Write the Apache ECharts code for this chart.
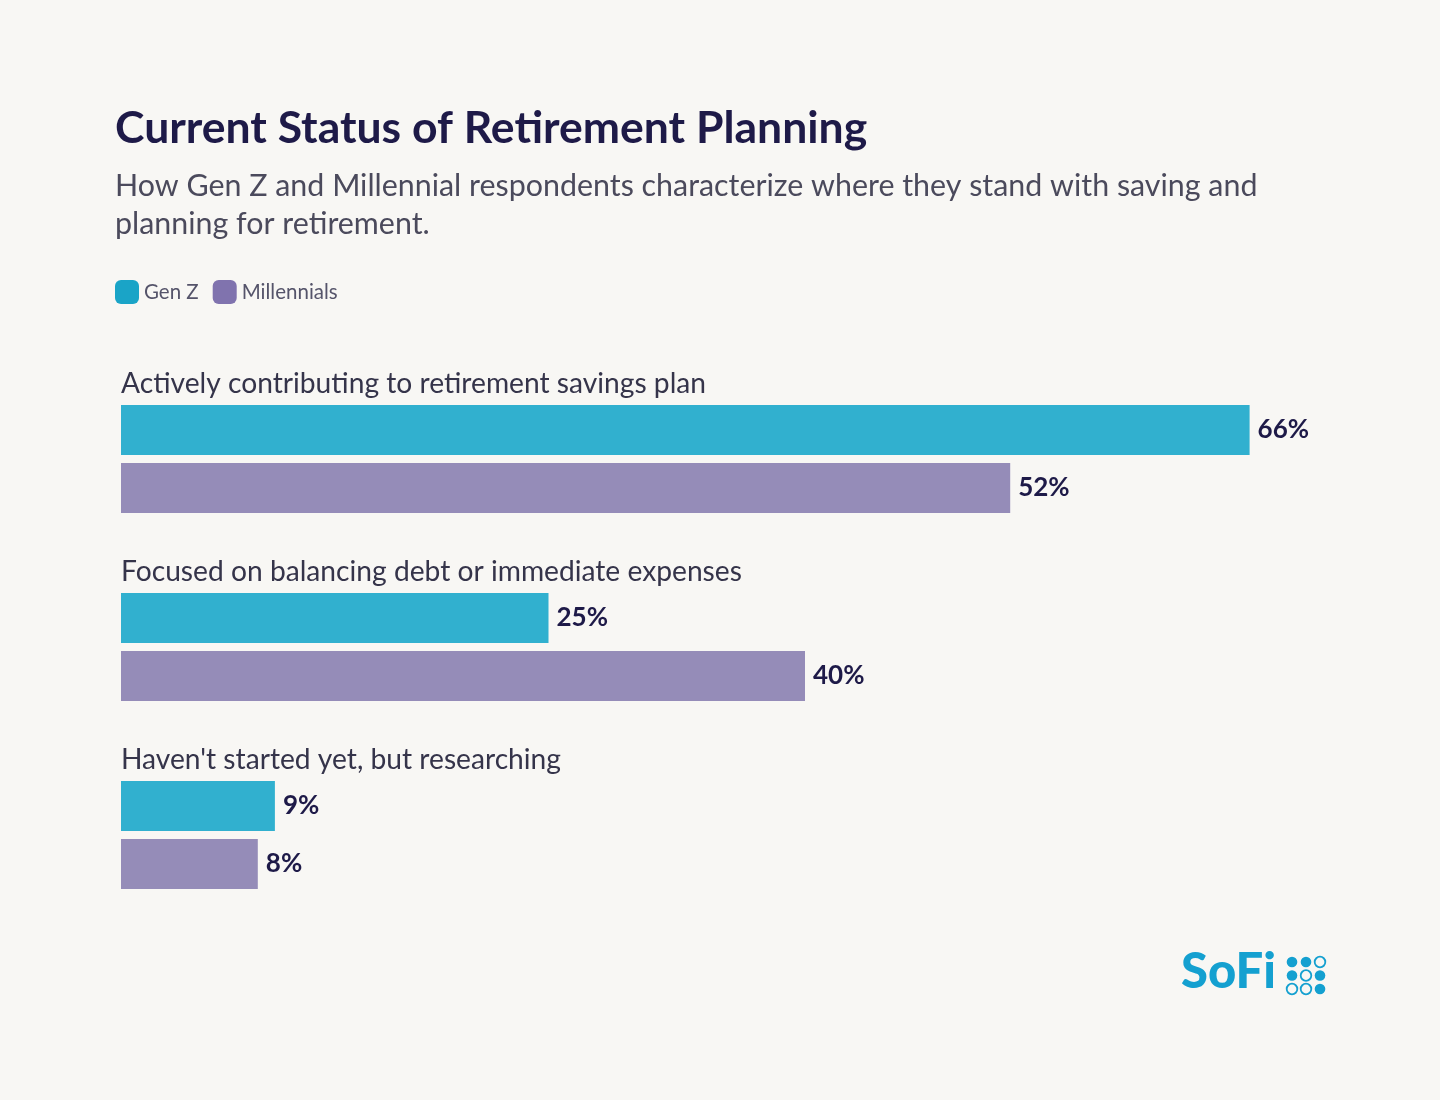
<!DOCTYPE html>
<html>
<head>
<meta charset="utf-8">
<script src="https://cdn.jsdelivr.net/npm/echarts@6/dist/echarts.min.js"></script>
<style>
  html, body { margin: 0; padding: 0; background: #f8f7f4; }
  #chart { width: 1440px; height: 1100px; }
</style>
</head>
<body>
<div id="chart"></div>
<script>
// data
var categories = [
  'Actively contributing to retirement savings plan',
  'Focused on balancing debt or immediate expenses',
  "Haven't started yet, but researching"
];
var genZ        = [66, 25, 9];
var millennials = [52, 40, 8];
var seriesNames = ['Gen Z', 'Millennials'];

var chart = echarts.init(document.getElementById('chart'));

var font = 'Lato';
var navy = '#1e1a48';

// value label right of each bar
function valueLabel() {
  return {
    show: true,
    position: 'right',
    distance: 8,
    formatter: '{c}%',
    fontFamily: font,
    fontWeight: 'bold',
    fontSize: 26,
    color: navy
  };
}

var option = {
  backgroundColor: '#f8f7f4',
  animation: false,
  title: {
    text: 'Current Status of Retirement Planning',
    subtext: 'How Gen Z and Millennial respondents characterize where they stand with saving and\nplanning for retirement.',
    left: 110,
    top: 101,
    itemGap: 16,
    textStyle: {
      fontFamily: font,
      fontWeight: 'bold',
      fontSize: 44.5,
      color: navy
    },
    subtextStyle: {
      fontFamily: font,
      fontSize: 30.4,
      lineHeight: 38,
      color: '#4b4a5c'
    }
  },
  legend: {
    left: 115,
    top: 280,
    padding: 0,
    itemWidth: 24,
    itemHeight: 24,
    itemGap: 14,
    icon: 'roundRect',
    textStyle: { fontFamily: font, fontSize: 20.5, color: '#55546a' },
    data: [
      { name: 'Gen Z', itemStyle: { color: '#1aa4c7' } },
      { name: 'Millennials', itemStyle: { color: '#8073ae' } }
    ]
  },
  grid: {
    left: 121,
    right: 36.5,
    top: 365,
    height: 564,
    containLabel: false
  },
  xAxis: {
    type: 'value',
    min: 0,
    max: 75,
    show: false
  },
  yAxis: {
    type: 'category',
    data: categories,
    inverse: true,
    axisLine: { show: false },
    axisTick: { show: false },
    splitLine: { show: false },
    axisLabel: {
      inside: true,
      margin: 0,
      align: 'left',
      verticalAlign: 'bottom',
      padding: [0, 0, 61, 0],
      fontFamily: font,
      fontSize: 28.2,
      color: '#35344a'
    }
  },
  series: [
    {
      name: seriesNames[0],
      type: 'bar',
      data: genZ,
      barWidth: 50,
      barGap: '16%',
      itemStyle: { color: '#31b0cf' },
      label: valueLabel()
    },
    {
      name: seriesNames[1],
      type: 'bar',
      data: millennials,
      barWidth: 50,
      itemStyle: { color: '#958cb8' },
      label: valueLabel()
    }
  ],
  graphic: [
    {
      type: 'text',
      left: 1181,
      top: 948,
      style: {
        text: 'SoFi',
        fontFamily: 'Lato',
        fontWeight: 900,
        fontSize: 49,
        fill: '#14a0d0'
      }
    }
  ]
};

// SoFi dot mark (3x3 grid, some hollow)
var hollow = { '0,2': 1, '1,1': 1, '2,0': 1, '2,1': 1 };
for (var r = 0; r < 3; r++) {
  for (var c = 0; c < 3; c++) {
    var isHollow = hollow[r + ',' + c];
    option.graphic.push({
      type: 'circle',
      shape: { cx: 1292 + c * 14, cy: 962 + r * 13.5, r: 5.3 },
      style: isHollow
        ? { fill: 'transparent', stroke: '#14a0d0', lineWidth: 1.8 }
        : { fill: '#14a0d0' }
    });
  }
}

chart.setOption(option);
</script>
</body>
</html>
